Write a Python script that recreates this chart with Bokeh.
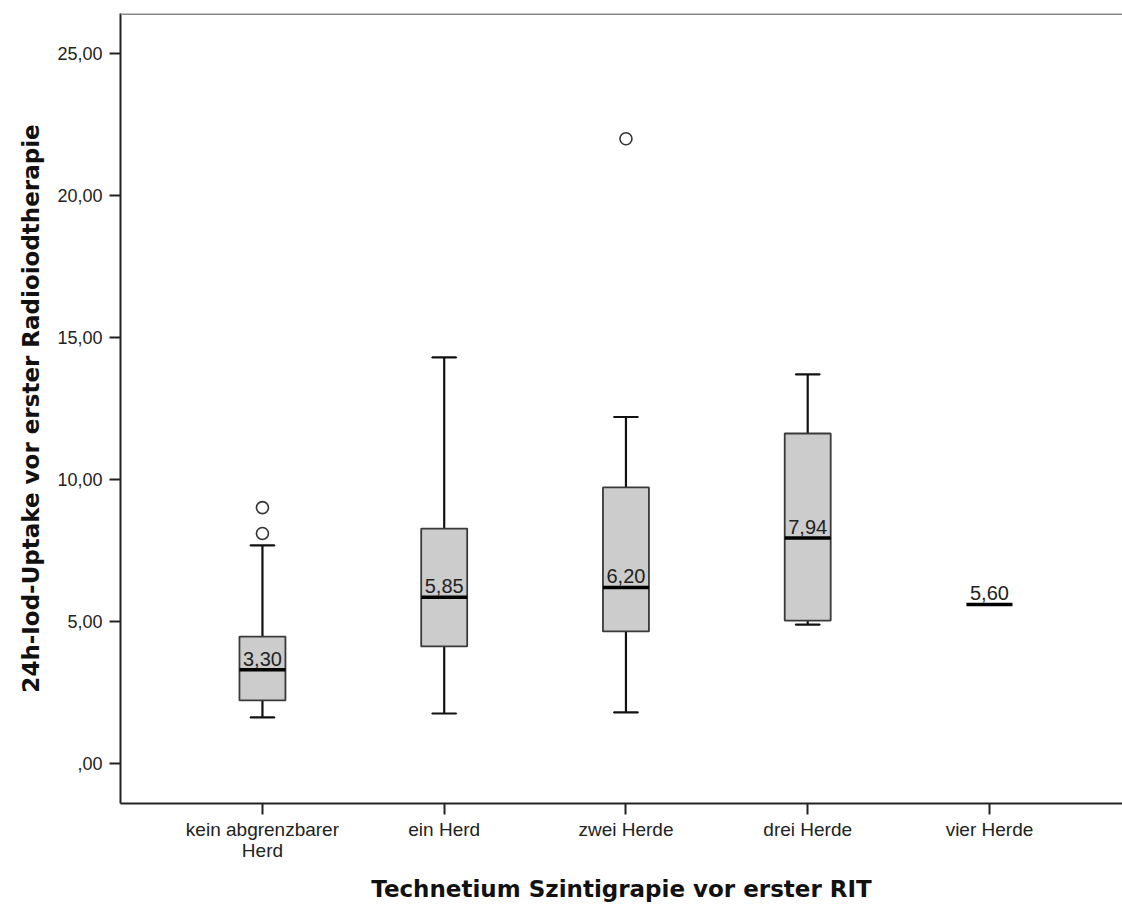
from bokeh.plotting import figure
from bokeh.models import Range1d, FixedTicker, Span, ColumnDataSource
from bokeh.embed import file_html
from bokeh.resources import INLINE
from bokeh.core.properties import value

categories = ["kein abgrenzbarer\nHerd", "ein Herd", "zwei Herde", "drei Herde", "vier Herde"]
lower_whisker = [1.62, 1.76, 1.80, 4.89, 5.60]
q1 = [2.22, 4.12, 4.65, 5.03, 5.60]
median = [3.30, 5.85, 6.20, 7.94, 5.60]
q3 = [4.47, 8.27, 9.72, 11.62, 5.60]
upper_whisker = [7.68, 14.30, 12.20, 13.70, 5.60]
outlier_group = [1, 1, 3]
outlier_value = [8.10, 9.01, 22.0]
y_ticks = [0, 5, 10, 15, 20, 25]
y_tick_labels = [",00", "5,00", "10,00", "15,00", "20,00", "25,00"]

pos = list(range(1, len(categories) + 1))
has_box = [q3[i] > q1[i] for i in range(len(pos))]

p = figure(width=1122, height=907, output_backend="svg", toolbar_location=None,
           x_range=Range1d(0.219, 5.732), y_range=Range1d(-1.41, 26.41),
           min_border_left=120, min_border_top=13, min_border_right=0, min_border_bottom=104)
p.outline_line_color = None
p.xgrid.visible = False
p.ygrid.visible = False
p.background_fill_color = "white"

BW = 0.253
CW = 0.132

idx = [i for i in range(len(pos)) if has_box[i]]
box_src = ColumnDataSource(dict(
    x=[pos[i] for i in idx],
    q1=[q1[i] for i in idx],
    q3=[q3[i] for i in idx],
    lo=[lower_whisker[i] for i in idx],
    up=[upper_whisker[i] for i in idx],
))
# whiskers
p.segment(x0="x", y0="q3", x1="x", y1="up", source=box_src, line_color="#111111", line_width=2.2)
p.segment(x0="x", y0="lo", x1="x", y1="q1", source=box_src, line_color="#111111", line_width=2.2)
# caps
p.rect(x="x", y="up", width=CW, height=0.0001, source=box_src, line_color="#111111", line_width=2.2, fill_color=None)
p.rect(x="x", y="lo", width=CW, height=0.0001, source=box_src, line_color="#111111", line_width=2.2, fill_color=None)
# boxes
p.vbar(x="x", bottom="q1", top="q3", width=BW, source=box_src,
       fill_color="#cccccc", line_color="#3a3a3a", line_width=1.8)

# medians
med_src = ColumnDataSource(dict(
    x0=[x - BW / 2 for x in pos], x1=[x + BW / 2 for x in pos], x=pos, m=median,
    lab=[f"{m:.2f}".replace(".", ",") for m in median]))
p.segment(x0="x0", y0="m", x1="x1", y1="m", source=med_src, line_color="#000000", line_width=3.5)
p.text(x="x", y="m", text="lab", source=med_src, text_align="center", text_baseline="bottom",
       y_offset=-4, text_font=value("Liberation Sans"), text_font_size="20px", text_color="#222222")

# outliers
p.scatter(x=outlier_group, y=outlier_value, marker="circle", size=12, fill_color="white",
          line_color="#333333", line_width=1.6)

# top frame line
p.add_layout(Span(location=26.41, dimension="width", line_color="#8a8a8a", line_width=3))

# axes
for ax in (p.xaxis[0], p.yaxis[0]):
    ax.axis_line_color = "#222222"
    ax.axis_line_width = 2
    ax.major_tick_line_color = "#222222"
    ax.major_tick_line_width = 2
    ax.major_tick_in = 0
    ax.major_tick_out = 11
    ax.minor_tick_line_color = None
    ax.major_label_text_font = "Liberation Sans"
    ax.major_label_text_color = "#222222"
    ax.axis_label_text_font = "DejaVu Sans"
    ax.axis_label_text_font_style = "bold"
    ax.axis_label_text_font_size = "23px"
    ax.axis_label_text_color = "#111111"

p.xaxis.ticker = FixedTicker(ticks=pos)
p.xaxis.major_label_overrides = {pos[i]: categories[i] for i in range(len(pos))}
p.xaxis.axis_label = "Technetium Szintigrapie vor erster RIT"
p.xaxis.major_label_text_font_size = "19px"
p.xaxis.major_label_text_line_height = 1.0
p.xaxis.major_label_standoff = 4
p.xaxis.axis_label_standoff = 12

p.yaxis.ticker = FixedTicker(ticks=y_ticks)
p.yaxis.major_label_overrides = {y_ticks[i]: y_tick_labels[i] for i in range(len(y_ticks))}
p.yaxis.axis_label = "24h-Iod-Uptake vor erster Radioiodtherapie"
p.yaxis.major_label_text_font_size = "18px"
p.yaxis.major_label_standoff = 7
p.yaxis.axis_label_standoff = 10

open("out.html", "w").write(file_html(p, INLINE))
